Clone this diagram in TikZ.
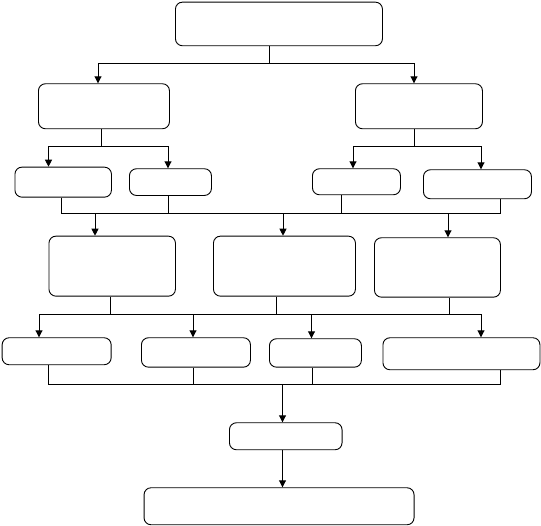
\documentclass[tikz,border=0pt]{standalone}
\usetikzlibrary{arrows.meta}

\begin{document}
\begin{tikzpicture}[
        x=1pt, y=-1pt,
        line width=0.9pt,
        box/.style={draw, rounded corners=7pt, inner sep=0pt, anchor=north west},
        arr/.style={-{Triangle[width=7pt,length=7pt]}},
      ]
      \useasboundingbox (0,0) rectangle (541,525);

      % Kaesten
      \node[box, minimum width=207pt, minimum height=43.6pt] (goal) at (175,1.7) {};
      \node[box, minimum width=131pt, minimum height=45pt] (left) at (38,83.3) {};
      \node[box, minimum width=127pt, minimum height=45pt] (right) at (355,83.3) {};

      \node[box, minimum width=96.5pt, minimum height=30pt] (la) at (14.5,166.7) {};
      \node[box, minimum width=82pt, minimum height=26.7pt] (lb) at (129,168.3) {};
      \node[box, minimum width=88pt, minimum height=26pt] (ra) at (312,168.3) {};
      \node[box, minimum width=108pt, minimum height=29pt] (rb) at (423,169.3) {};

      \node[box, minimum width=126.5pt, minimum height=60pt] (mida) at (48.5,235.7) {};
      \node[box, minimum width=142pt, minimum height=60pt] (midb) at (213,235.7) {};
      \node[box, minimum width=126pt, minimum height=59.4pt] (midc) at (374,237.3) {};

      \node[box, minimum width=109pt, minimum height=27pt] (oa) at (1.7,337.3) {};
      \node[box, minimum width=109pt, minimum height=29.4pt] (ob) at (141,337.3) {};
      \node[box, minimum width=92pt, minimum height=28.4pt] (oc) at (269,338.3) {};
      \node[box, minimum width=157pt, minimum height=32pt] (od) at (382.5,337.3) {};

      \node[box, minimum width=112.6pt, minimum height=27pt] (merge) at (229,422.3) {};
      \node[box, minimum width=270pt, minimum height=37pt] (final) at (143.6,487.3) {};

      % Ebene 1 -> 2
      \coordinate (j0) at (269,63.3);
      \coordinate (j1) at (98,63.3);
      \coordinate (j2) at (414,63.3);
      \draw (j0 |- goal.south) -- (j0);
      \draw (j1) -- (j2);
      \draw[arr] (j1) -- (j1 |- left.north);
      \draw[arr] (j2) -- (j2 |- right.north);

      % Ebene 2 -> 3
      \coordinate (k0) at (101,146);
      \coordinate (k1) at (48.5,146);
      \coordinate (k2) at (168,146);
      \draw (k0 |- left.south) -- (k0);
      \draw (k1) -- (k2);
      \draw[arr] (k1) -- (k1 |- la.north);
      \draw[arr] (k2) -- (k2 |- lb.north);
      \coordinate (k3) at (414,146);
      \coordinate (k4) at (353,146);
      \coordinate (k5) at (481,146);
      \draw (k3 |- right.south) -- (k3);
      \draw (k4) -- (k5);
      \draw[arr] (k4) -- (k4 |- ra.north);
      \draw[arr] (k5) -- (k5 |- rb.north);

      % Ebene 3 -> 4
      \coordinate (m1) at (61.6,213.3);
      \coordinate (m2) at (168,213.3);
      \coordinate (m3) at (341.6,213.3);
      \coordinate (m4) at (500,213.3);
      \draw (m1 |- la.south) -- (m1) -- (m4) -- (m4 |- rb.south);
      \draw (m2 |- lb.south) -- (m2);
      \draw (m3 |- ra.south) -- (m3);
      \coordinate (n1) at (95,213.3);
      \coordinate (n2) at (283,213.3);
      \coordinate (n3) at (448,213.3);
      \draw[arr] (n1) -- (n1 |- mida.north);
      \draw[arr] (n2) -- (n2 |- midb.north);
      \draw[arr] (n3) -- (n3 |- midc.north);

      % Ebene 4 -> 5
      \coordinate (p1) at (110.8,314);
      \coordinate (p2) at (276,314);
      \coordinate (p3) at (449,314);
      \draw (p1 |- mida.south) -- (p1);
      \draw (p2 |- midb.south) -- (p2);
      \draw (p3 |- midc.south) -- (p3);
      \coordinate (q1) at (39,314);
      \coordinate (q2) at (193,314);
      \coordinate (q3) at (311.5,314);
      \coordinate (q4) at (481,314);
      \draw (q1) -- (q4);
      \draw[arr] (q1) -- (q1 |- oa.north);
      \draw[arr] (q2) -- (q2 |- ob.north);
      \draw[arr] (q3) -- (q3 |- oc.north);
      \draw[arr] (q4) -- (q4 |- od.north);

      % Zusammenfuehrung
      \coordinate (r1) at (48.5,384.3);
      \coordinate (r2) at (193,384.3);
      \coordinate (r3) at (312,384.3);
      \coordinate (r4) at (500,384.3);
      \coordinate (r0) at (282.5,384.3);
      \draw (r1 |- oa.south) -- (r1) -- (r4) -- (r4 |- od.south);
      \draw (r2 |- ob.south) -- (r2);
      \draw (r3 |- oc.south) -- (r3);
      \draw[arr] (r0) -- (r0 |- merge.north);
      \draw[arr] (r0 |- merge.south) -- (r0 |- final.north);
    \end{tikzpicture}
\end{document}
